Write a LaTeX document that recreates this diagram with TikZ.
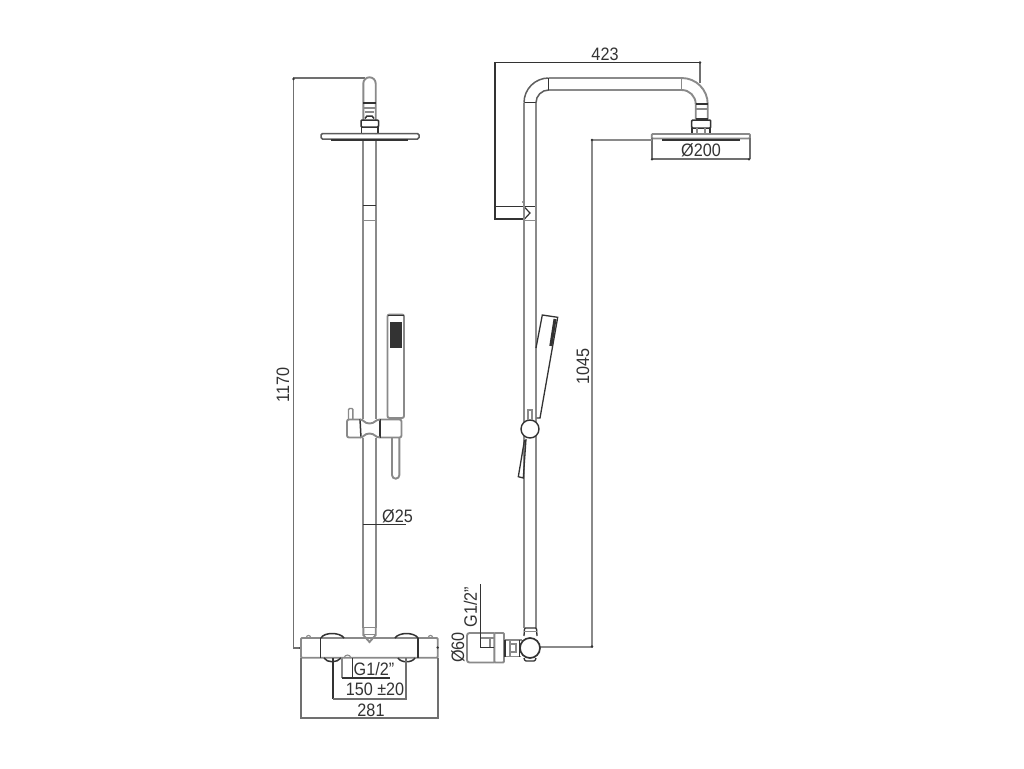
\documentclass[tikz,border=0pt]{standalone}
\usepackage{fontspec}
\setmainfont{Liberation Sans}[FakeStretch=0.9]
\definecolor{pipe}{HTML}{8A8A8A}
\definecolor{ink}{HTML}{333333}
\tikzset{
  pipeline/.style={draw=pipe,line width=1.9pt},
  darkline/.style={draw=ink,line width=1.5pt},
  dimline/.style={draw=pipe!70!ink,line width=1.7pt},
  dimtext/.style={inner sep=0pt,text=ink,font=\fontsize{18}{18}\selectfont}
}
\begin{document}
\begin{tikzpicture}[x=1pt,y=-1pt]
\useasboundingbox (0,0) rectangle (1024,768);
\fill[white] (0,0) rectangle (1024,768);

% ===== LEFT VIEW =====
% dimension 1170
\draw[dimline] (365,78) -- (293.5,78) -- (293.5,648) -- (301,648);
\fill[ink] (293.5,79) circle (1.3);
\fill[ink] (300.5,648) circle (1.3);
% top arch
\draw[pipeline] (363.3,134) -- (363.3,83.5) arc[start angle=180,end angle=360,radius=6.2] -- (375.7,134);
\draw[darkline,line width=1.2pt] (363.3,103) -- (375.7,103);
\draw[pipeline,line width=1.2pt] (363.3,108) -- (375.7,108);
\draw[pipeline,line width=1.2pt] (365,112) -- (374,112);
\draw[darkline] (365,118.5) -- (367,116) -- (372,116) -- (374,118.5);
\fill[white] (361,120) rectangle (378.5,133);
\draw[darkline,rounded corners=1pt] (361,127) -- (361,120) -- (378.5,120) -- (378.5,127) -- cycle;
\draw[darkline,line width=1.2pt] (361.5,127) -- (361.5,133);
\draw[darkline,line width=1.2pt] (378,127) -- (378,133);
% head plate
\draw[draw=ink!80!white,line width=1.5pt,rounded corners=1.5pt] (321,133.5) rectangle (419,139);
\fill[ink] (331,139.4) rectangle (408,141.2);
% rod
\draw[pipeline] (363.3,141) -- (363.3,628);
\draw[pipeline] (375.7,141) -- (375.7,628);
\draw[darkline,line width=1.2pt] (363.3,205.7) -- (375.7,205.7);
\draw[pipeline,line width=1.1pt] (363.3,220.7) -- (375.7,220.7);
% hand shower
\draw[pipeline,rounded corners=2pt] (387.5,418) -- (387.5,314.5) -- (404,314.5) -- (404,418) -- cycle;
\draw[darkline,line width=1.2pt] (388,315.5) -- (403.5,315.5);
\fill[ink] (390,322) rectangle (402,348);
\draw[pipeline] (392,438) -- (392,475) arc[start angle=180,end angle=0,radius=3.7] -- (399.4,438);
% bracket
\fill[white] (346.5,419) rectangle (402,438);
\draw[pipeline,rounded corners=2pt] (360,419.5) -- (347,419.5) -- (347,437.5) -- (360,437.5);
\draw[darkline] (360,419) -- (361,438);
\draw[pipeline,rounded corners=2pt] (380,419.5) -- (401.5,419.5) -- (401.5,437.5) -- (380,437.5);
\draw[darkline] (380,419) -- (380,438);
\draw[pipeline] (360,419.5) .. controls (364,419.5) and (364,423.5) .. (369.5,423.5) .. controls (375,423.5) and (375,419.5) .. (380,419.5);
\draw[pipeline] (360,437.5) .. controls (364,437.5) and (364,433.5) .. (369.5,433.5) .. controls (375,433.5) and (375,437.5) .. (380,437.5);
\draw[pipeline,line width=1.4pt,rounded corners=1pt] (348.5,419) -- (348.5,408.5) -- (352.8,408.5) -- (352.8,419);
% dim 25
\draw[darkline] (363.3,524.3) -- (406,524.3);
\node[dimtext] (d25) at (397.5,516) {Ø25};
% thermostat body
\draw[pipeline] (363.3,627.5) -- (375.7,627.5);
\draw[pipeline] (363.3,628) -- (363.3,635) -- (369.5,642) -- (375.7,635) -- (375.7,628);
\draw[pipeline] (363.3,634.5) -- (375.7,634.5);
\draw[pipeline,rounded corners=1pt] (301,638) rectangle (437.7,657.7);
\draw[darkline] (320.7,638) -- (320.7,657.7);
\draw[darkline] (418,638) -- (418,657.7);
\draw[darkline] (321,638) .. controls (324,632) and (340,632) .. (344,638);
\draw[darkline] (395,638) .. controls (399,632) and (414,632) .. (418,638);
\draw[darkline] (324,658) .. controls (327,663) and (337,663) .. (341,658);
\draw[darkline] (398,658) .. controls (401,663) and (412,663) .. (415,658);
\draw[pipeline,line width=1.1pt] (306,638) .. controls (307,634.5) and (310,634.5) .. (311,638);
\draw[pipeline,line width=1.1pt] (428,638) .. controls (429,634.5) and (432,634.5) .. (433,638);
\fill[ink] (437.7,647.5) circle (1.3);
% bottom dims
\draw[dimline] (301,658) -- (301,718) -- (437.7,718) -- (437.7,658);
\draw[darkline] (333,658) -- (333,699);
\draw[dimline] (333,699) -- (405.7,699) -- (405.7,658);
\draw[darkline,line width=1.2pt] (352.5,658) -- (352.5,678);
\draw[pipeline,line width=1.2pt] (342,658) -- (342,678);
\draw[darkline,line width=1.2pt] (342,678) -- (390,678);
\draw[pipeline,line width=1.1pt] (344,658) .. controls (345,654) and (350,654) .. (351,658);
\node[dimtext] (g1) at (374,669) {G1/2''};
\node[dimtext] (d150) at (375,689) {150 ±20};
\node[dimtext] (d281) at (371,710) {281};
\node[dimtext,rotate=90] (d1170) at (283,385) {1170};

% ===== RIGHT VIEW =====
% dimension 423
\draw[dimline] (700,83) -- (700,62.3);
\draw[darkline] (700,62.3) -- (495,62.3);
\draw[darkline] (495,62.3) -- (495,219) -- (524,219);
\draw[darkline] (495,206.7) -- (536,206.7);
\fill[ink] (700,62.5) circle (1.3);
\fill[ink] (523.5,202) circle (1.4);
\draw[darkline,line width=1.2pt] (524,206.7) -- (530,213) -- (524.5,219);
\draw[pipeline,line width=1.2pt] (524.5,220.5) -- (536,220.5);
\node[dimtext] (d423) at (605,54) {423};
% riser and elbow
\draw[pipeline] (524,628) -- (524,102.7);
\draw[pipeline] (536,628) -- (536,102.7);
\draw[darkline] (524,102.7) -- (536,102.7);
\draw[darkline,draw=pipe!50!ink] (524,102.7) arc[start angle=180,end angle=270,radius=24.7];
\draw[darkline,draw=pipe!50!ink] (536,102.7) arc[start angle=180,end angle=270,radius=12.7];
\draw[darkline] (548.7,78) -- (548.7,90);
\draw[pipeline] (548.7,78) -- (681.7,78);
\draw[pipeline] (548.7,90) -- (681.7,90);
\draw[pipeline,line width=1.2pt] (681.7,78) -- (681.7,90);
\draw[pipeline] (681.7,78) arc[start angle=270,end angle=360,radius=26] -- (707.7,119);
\draw[pipeline] (681.7,90) arc[start angle=270,end angle=360,radius=14] -- (695.7,119);
\draw[darkline,line width=1.2pt] (695.7,104) -- (707.7,104);
\draw[pipeline,line width=1.2pt] (695.7,109) -- (707.7,109);
\draw[darkline,line width=1.2pt] (695.7,119) -- (707.7,119);
\draw[darkline,rounded corners=1pt] (691.7,128) -- (691.7,120) -- (710.7,120) -- (710.7,128) -- cycle;
\draw[darkline,line width=1.2pt] (692,128) -- (692,134);
\draw[darkline,line width=1.2pt] (710,128) -- (710,134);
\draw[pipeline,line width=1.1pt] (697,128) -- (697,134);
\draw[pipeline,line width=1.1pt] (705,128) -- (705,134);
% head
\draw[pipeline,rounded corners=1pt] (651.7,134) rectangle (750,138.5);
\fill[ink] (662,139.4) rectangle (740,141.2);
\draw[dimline] (651.7,138) -- (651.7,159.3);
\draw[dimline] (750,138) -- (750,159.3);
\draw[dimline] (651.7,159.3) -- (750,159.3);
\fill[ink] (652,159.3) circle (1.3);
\fill[ink] (749,159.3) circle (1.3);
\node[dimtext] (d200) at (701,150) {Ø200};
% dimension 1045
\draw[pipeline] (652,140) -- (592,140) -- (592,647.3) -- (540,647.3);
\fill[ink] (592,140) circle (1.3);
\fill[ink] (592,646.5) circle (1.3);
\node[dimtext,rotate=90] (d1045) at (583,366.5) {1045};
% hand shower
\draw[darkline,line width=1.3pt] (536,348) -- (542.3,315) -- (557.7,317.3) -- (540,418) -- (536.5,418);
\draw[ink,line width=3pt] (555,319) -- (550.8,346);
\filldraw[fill=white,draw=ink,line width=1.4pt] (530,429) circle (9);
\draw[pipeline,line width=1.3pt] (528,420) -- (528,410) -- (532,410) -- (532,420);
\draw[darkline,line width=1.3pt] (524.5,440) -- (518.3,476.7) -- (523.3,478) -- (526,439);
% valve
\draw[darkline,line width=1.3pt,rounded corners=1pt] (524,636) -- (524.5,628) -- (536.5,628) -- (537,636);
\draw[pipeline,line width=1.2pt] (524,631.5) -- (537,631.5);
\filldraw[fill=white,draw=ink,line width=1.7pt] (530,648) circle (10);
\draw[darkline,line width=1.3pt,rounded corners=1pt] (524,658) -- (525,661) -- (535,661) -- (536,658);
\draw[pipeline,rounded corners=2.5pt] (494.3,633) -- (467,633) -- (467,662.5) -- (494.3,662.5);
\draw[darkline] (494.3,633) -- (494.3,662.5);
\draw[pipeline,rounded corners=1pt] (494.3,633) rectangle (504,662.5);
\draw[pipeline,line width=1.2pt] (504,640) -- (522,640);
\draw[pipeline,line width=1.2pt] (504,656.5) -- (521,656.5);
\draw[pipeline,line width=1.2pt] (510,640) -- (510,656.5);
\draw[darkline,line width=1.2pt] (505,640) -- (505,656.5);
\draw[pipeline,line width=1.2pt] (516,644) rectangle (510,652);
\draw[darkline,line width=1.2pt] (519.5,640) -- (519.5,656.5);
\draw[pipeline,line width=1.2pt] (481,638) -- (494,638);
\draw[pipeline,line width=1.2pt] (490,638) -- (490,647.7);
\draw[darkline] (480.7,584) -- (480.7,647.7) -- (494,647.7);
\node[dimtext,rotate=90] (g2) at (470.5,607) {G1/2''};
\node[dimtext,rotate=90] (d60) at (458,647.5) {Ø60};
\end{tikzpicture}
\end{document}
